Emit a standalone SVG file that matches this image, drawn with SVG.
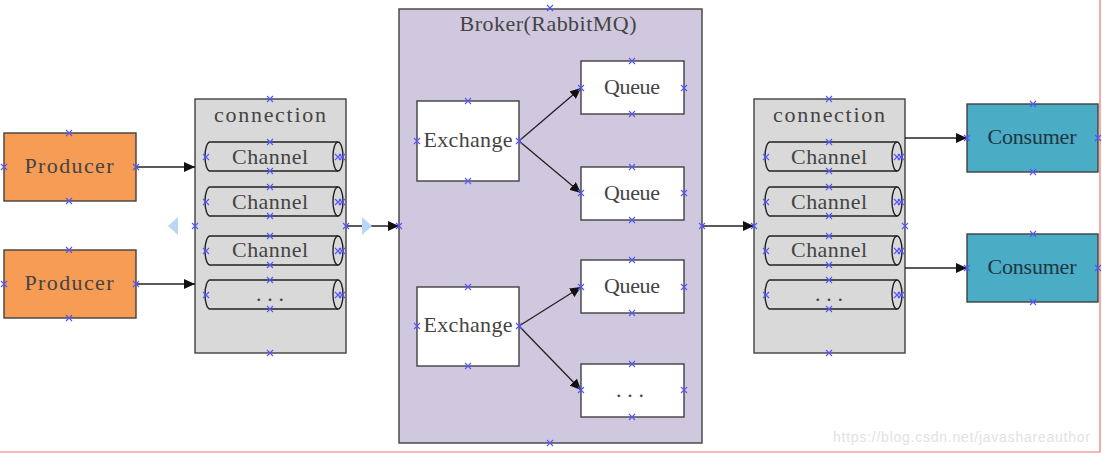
<svg xmlns="http://www.w3.org/2000/svg" xmlns:xlink="http://www.w3.org/1999/xlink" width="1102" height="454" viewBox="0 0 1102 454">
<style>
.box{stroke:#404040;stroke-width:1.4}
.prod{fill:#F69C55}
.cons{fill:#4BACC6}
.conn{fill:#D9D9D9}
.broker{fill:#D0C8DE}
.white{fill:#FFFFFF}
.ch{fill:#D9D9D9;stroke:#222;stroke-width:1.4}
.chi{fill:none;stroke:#222;stroke-width:1.4}
.t{font-family:"Liberation Serif","DejaVu Serif",serif;font-size:22px;fill:#444;text-anchor:middle}
.edge{stroke:#222;stroke-width:1.3;fill:none}
.cp{stroke:#5555FF;stroke-width:1.1;fill:none}
.tri{fill:#B7D7F5}
</style>
<defs>
<marker id="ah" markerUnits="userSpaceOnUse" markerWidth="12" markerHeight="10" refX="11" refY="5" orient="auto">
<path d="M0,0 L11,5 L0,10 Z" fill="#111"/>
</marker>
<path id="x" d="M-3,-3 L3,3 M-3,3 L3,-3"/>
</defs>
<rect width="1102" height="454" fill="#FFFFFF"/>
<line x1="1100" y1="0" x2="1100" y2="452" stroke="#EE7070" stroke-width="1.2"/>
<line x1="0" y1="452" x2="1100" y2="452" stroke="#EE7070" stroke-width="1.2"/>

<g id="broker">
<rect class="box broker" x="399" y="9" width="303" height="434"/>
<text class="t" x="548" y="31" textLength="177">Broker(RabbitMQ)</text>
</g>

<g id="producer1">
<rect class="box prod" x="4" y="133" width="132" height="68"/>
<text class="t" x="69" y="173" textLength="89">Producer</text>
</g>
<g id="producer2">
<rect class="box prod" x="4" y="250" width="132" height="68"/>
<text class="t" x="69" y="290" textLength="89">Producer</text>
</g>

<g id="connection-left">
<rect class="box conn" x="195" y="99" width="151" height="254"/>
<text class="t" x="270" y="122" textLength="112">connection</text>
</g>
<g id="channel-l1">
<path class="ch" d="M210,142 H338 A5,14.5 0 0 1 338,171 H210 A5,14.5 0 0 1 210,142 Z"/>
<path class="chi" d="M338,142 A5,14.5 0 0 0 338,171"/>
<text class="t" x="270" y="164" textLength="76">Channel</text>
</g>
<g id="channel-l2">
<path class="ch" d="M210,187 H338 A5,14.5 0 0 1 338,216 H210 A5,14.5 0 0 1 210,187 Z"/>
<path class="chi" d="M338,187 A5,14.5 0 0 0 338,216"/>
<text class="t" x="270" y="209" textLength="76">Channel</text>
</g>
<g id="channel-l3">
<path class="ch" d="M210,236 H338 A5,14.5 0 0 1 338,265 H210 A5,14.5 0 0 1 210,236 Z"/>
<path class="chi" d="M338,236 A5,14.5 0 0 0 338,265"/>
<text class="t" x="270" y="257" textLength="76">Channel</text>
</g>
<g id="channel-l4">
<path class="ch" d="M210,280 H338 A5,14.5 0 0 1 338,309 H210 A5,14.5 0 0 1 210,280 Z"/>
<path class="chi" d="M338,280 A5,14.5 0 0 0 338,309"/>
<text class="t" x="270" y="301" textLength="28">...</text>
</g>

<g id="exchange1">
<rect class="box white" x="417" y="101" width="102" height="80"/>
<text class="t" x="468" y="147" textLength="89">Exchange</text>
</g>
<g id="exchange2">
<rect class="box white" x="417" y="287" width="102" height="79"/>
<text class="t" x="468" y="332" textLength="89">Exchange</text>
</g>
<g id="queue1">
<rect class="box white" x="581" y="61" width="103" height="53"/>
<text class="t" x="632" y="94" textLength="56">Queue</text>
</g>
<g id="queue2">
<rect class="box white" x="581" y="167" width="103" height="53"/>
<text class="t" x="632" y="200" textLength="56">Queue</text>
</g>
<g id="queue3">
<rect class="box white" x="581" y="260" width="103" height="53"/>
<text class="t" x="632" y="293" textLength="56">Queue</text>
</g>
<g id="queue4">
<rect class="box white" x="581" y="364" width="103" height="53"/>
<text class="t" x="630" y="397" textLength="28">...</text>
</g>

<g id="connection-right">
<rect class="box conn" x="754" y="99" width="151" height="254"/>
<text class="t" x="829" y="122" textLength="112">connection</text>
</g>
<g id="channel-r1">
<path class="ch" d="M770,142 H897 A5,14.5 0 0 1 897,171 H770 A5,14.5 0 0 1 770,142 Z"/>
<path class="chi" d="M897,142 A5,14.5 0 0 0 897,171"/>
<text class="t" x="829" y="164" textLength="76">Channel</text>
</g>
<g id="channel-r2">
<path class="ch" d="M770,187 H897 A5,14.5 0 0 1 897,216 H770 A5,14.5 0 0 1 770,187 Z"/>
<path class="chi" d="M897,187 A5,14.5 0 0 0 897,216"/>
<text class="t" x="829" y="209" textLength="76">Channel</text>
</g>
<g id="channel-r3">
<path class="ch" d="M770,236 H897 A5,14.5 0 0 1 897,265 H770 A5,14.5 0 0 1 770,236 Z"/>
<path class="chi" d="M897,236 A5,14.5 0 0 0 897,265"/>
<text class="t" x="829" y="257" textLength="76">Channel</text>
</g>
<g id="channel-r4">
<path class="ch" d="M770,280 H897 A5,14.5 0 0 1 897,309 H770 A5,14.5 0 0 1 770,280 Z"/>
<path class="chi" d="M897,280 A5,14.5 0 0 0 897,309"/>
<text class="t" x="829" y="301" textLength="28">...</text>
</g>

<g id="consumer1">
<rect class="box cons" x="967" y="104" width="131" height="68"/>
<text class="t" x="1032" y="144" textLength="89" style="fill:#1e3640">Consumer</text>
</g>
<g id="consumer2">
<rect class="box cons" x="967" y="234" width="131" height="68"/>
<text class="t" x="1032" y="274" textLength="89" style="fill:#1e3640">Consumer</text>
</g>

<g id="connectors">
<line class="edge" x1="136" y1="167" x2="195" y2="167" marker-end="url(#ah)"/>
<line class="edge" x1="136" y1="284" x2="195" y2="284" marker-end="url(#ah)"/>
<line class="edge" x1="346" y1="226" x2="399" y2="226" marker-end="url(#ah)"/>
<line class="edge" x1="519" y1="141" x2="581" y2="88" marker-end="url(#ah)"/>
<line class="edge" x1="519" y1="141" x2="581" y2="193" marker-end="url(#ah)"/>
<line class="edge" x1="519" y1="326" x2="581" y2="287" marker-end="url(#ah)"/>
<line class="edge" x1="519" y1="326" x2="581" y2="390" marker-end="url(#ah)"/>
<line class="edge" x1="702" y1="226" x2="754" y2="226" marker-end="url(#ah)"/>
<line class="edge" x1="905" y1="138" x2="967" y2="138" marker-end="url(#ah)"/>
<line class="edge" x1="905" y1="268" x2="967" y2="268" marker-end="url(#ah)"/>
</g>

<g id="handles">
<path class="tri" d="M168,226 L178,217 L178,235 Z"/>
<path class="tri" d="M372,226 L362,217 L362,235 Z"/>
</g>

<g id="connection-points" class="cp">
<use xlink:href="#x" x="69" y="133"/><use xlink:href="#x" x="69" y="201"/><use xlink:href="#x" x="4" y="167"/><use xlink:href="#x" x="136" y="167"/>
<use xlink:href="#x" x="69" y="250"/><use xlink:href="#x" x="69" y="318"/><use xlink:href="#x" x="4" y="284"/><use xlink:href="#x" x="136" y="284"/>
<use xlink:href="#x" x="270" y="99"/><use xlink:href="#x" x="270" y="353"/><use xlink:href="#x" x="195" y="226"/><use xlink:href="#x" x="346" y="226"/>
<use xlink:href="#x" x="270" y="142"/><use xlink:href="#x" x="270" y="171"/><use xlink:href="#x" x="206" y="157"/><use xlink:href="#x" x="338" y="157"/><use xlink:href="#x" x="342" y="157"/>
<use xlink:href="#x" x="270" y="187"/><use xlink:href="#x" x="270" y="216"/><use xlink:href="#x" x="206" y="202"/><use xlink:href="#x" x="338" y="202"/><use xlink:href="#x" x="342" y="202"/>
<use xlink:href="#x" x="270" y="236"/><use xlink:href="#x" x="270" y="265"/><use xlink:href="#x" x="206" y="251"/><use xlink:href="#x" x="338" y="251"/><use xlink:href="#x" x="342" y="251"/>
<use xlink:href="#x" x="270" y="280"/><use xlink:href="#x" x="270" y="309"/><use xlink:href="#x" x="206" y="295"/><use xlink:href="#x" x="338" y="295"/><use xlink:href="#x" x="342" y="295"/>
<use xlink:href="#x" x="550" y="8"/><use xlink:href="#x" x="550" y="443"/><use xlink:href="#x" x="399" y="226"/><use xlink:href="#x" x="702" y="226"/>
<use xlink:href="#x" x="468" y="101"/><use xlink:href="#x" x="468" y="181"/><use xlink:href="#x" x="417" y="141"/><use xlink:href="#x" x="519" y="141"/>
<use xlink:href="#x" x="468" y="287"/><use xlink:href="#x" x="468" y="366"/><use xlink:href="#x" x="417" y="326"/><use xlink:href="#x" x="519" y="326"/>
<use xlink:href="#x" x="632" y="61"/><use xlink:href="#x" x="632" y="114"/><use xlink:href="#x" x="581" y="88"/><use xlink:href="#x" x="684" y="88"/>
<use xlink:href="#x" x="632" y="167"/><use xlink:href="#x" x="632" y="220"/><use xlink:href="#x" x="581" y="193"/><use xlink:href="#x" x="684" y="193"/>
<use xlink:href="#x" x="632" y="260"/><use xlink:href="#x" x="632" y="313"/><use xlink:href="#x" x="581" y="287"/><use xlink:href="#x" x="684" y="287"/>
<use xlink:href="#x" x="632" y="364"/><use xlink:href="#x" x="632" y="417"/><use xlink:href="#x" x="581" y="390"/><use xlink:href="#x" x="684" y="390"/>
<use xlink:href="#x" x="829" y="99"/><use xlink:href="#x" x="829" y="353"/><use xlink:href="#x" x="754" y="226"/><use xlink:href="#x" x="905" y="226"/>
<use xlink:href="#x" x="829" y="142"/><use xlink:href="#x" x="829" y="171"/><use xlink:href="#x" x="766" y="157"/><use xlink:href="#x" x="897" y="157"/><use xlink:href="#x" x="901" y="157"/>
<use xlink:href="#x" x="829" y="187"/><use xlink:href="#x" x="829" y="216"/><use xlink:href="#x" x="766" y="202"/><use xlink:href="#x" x="897" y="202"/><use xlink:href="#x" x="901" y="202"/>
<use xlink:href="#x" x="829" y="236"/><use xlink:href="#x" x="829" y="265"/><use xlink:href="#x" x="766" y="251"/><use xlink:href="#x" x="897" y="251"/><use xlink:href="#x" x="901" y="251"/>
<use xlink:href="#x" x="829" y="280"/><use xlink:href="#x" x="829" y="309"/><use xlink:href="#x" x="766" y="295"/><use xlink:href="#x" x="897" y="295"/><use xlink:href="#x" x="901" y="295"/>
<use xlink:href="#x" x="1033" y="104"/><use xlink:href="#x" x="1033" y="172"/><use xlink:href="#x" x="967" y="138"/><use xlink:href="#x" x="1098" y="138"/>
<use xlink:href="#x" x="1033" y="234"/><use xlink:href="#x" x="1033" y="302"/><use xlink:href="#x" x="967" y="268"/><use xlink:href="#x" x="1098" y="268"/>
</g>

<text x="1090" y="442" text-anchor="end" textLength="257" style="font-family:'Liberation Sans',Arial,sans-serif;font-size:14px;fill:#E2E2E2">https://blog.csdn.net/javashareauthor</text>
</svg>
